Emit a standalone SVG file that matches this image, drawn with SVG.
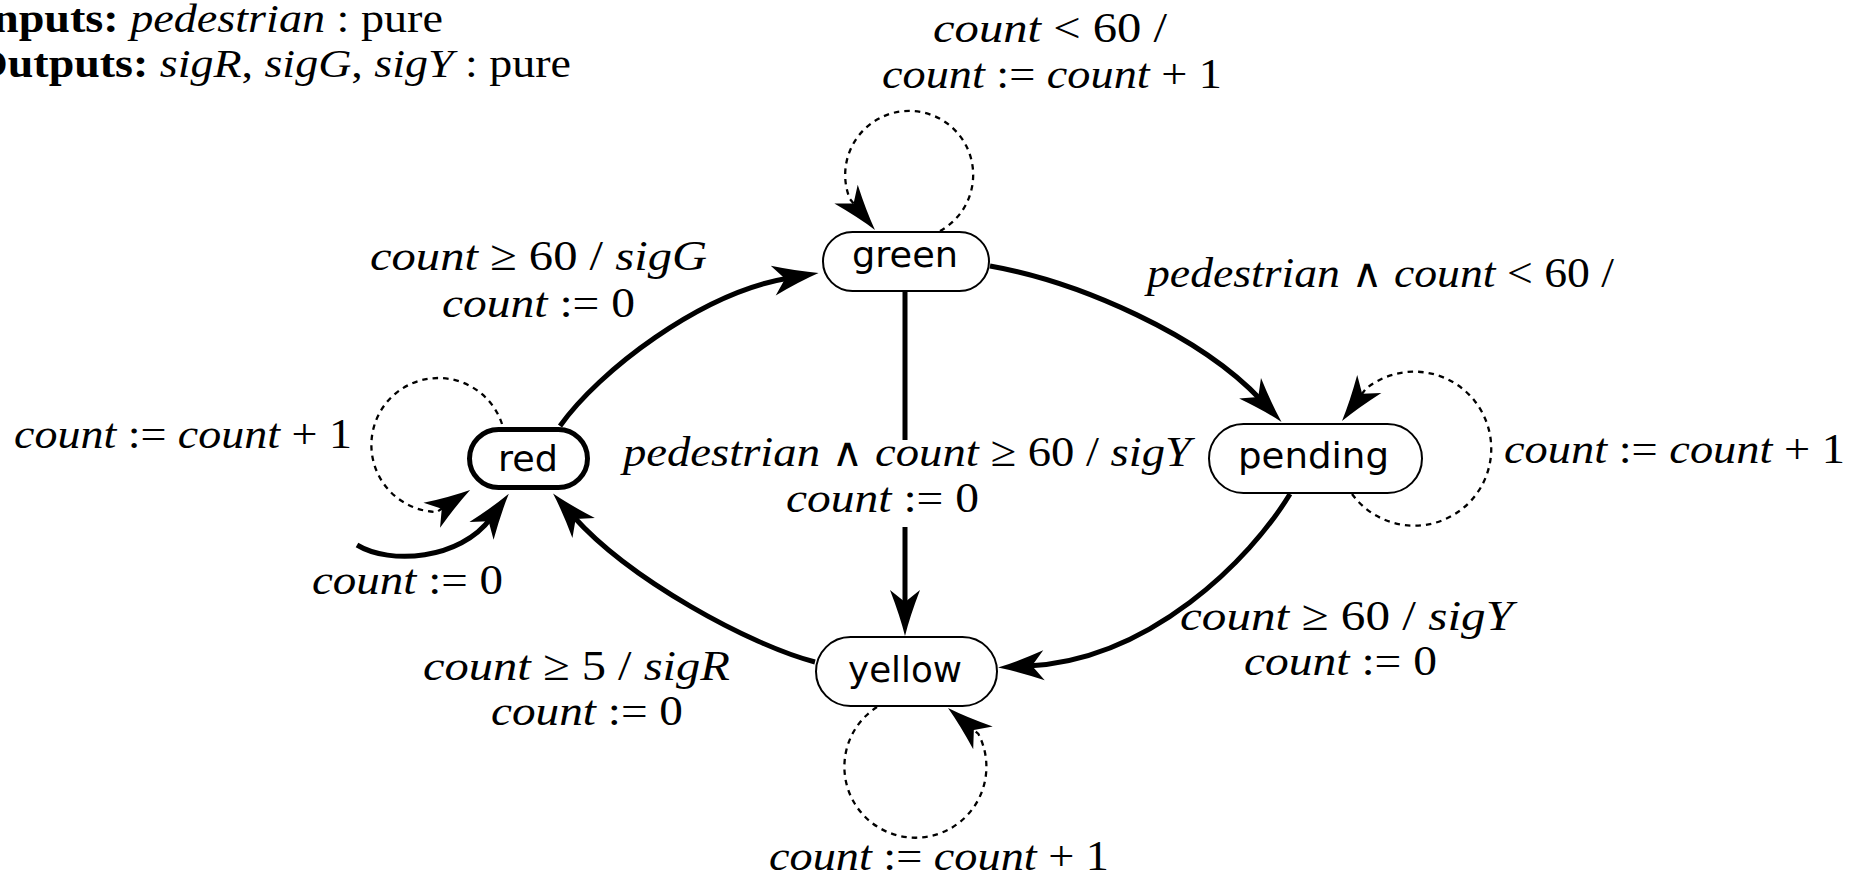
<svg xmlns="http://www.w3.org/2000/svg" width="1854" height="879" viewBox="0 0 1854 879">
  <style>
    .m { font-family: "Liberation Serif", "Times New Roman", serif; font-size: 43px; fill: #000; }
    .h { font-size: 41px; }
    .i { font-style: italic; }
    .b { font-weight: bold; }
    .w { font-family: "DejaVu Serif", "DejaVu Sans", serif; font-size: 40px; }
    .node rect { fill: #fff; stroke: #000; stroke-width: 2; }
    .node.initial rect { stroke-width: 5; }
    .node text { font-family: "DejaVu Sans", "Open Sans", sans-serif; font-size: 36px; fill: #000; }
    .edge { fill: none; stroke: #000; stroke-width: 5; marker-end: url(#arrow); }
    .loop { fill: none; stroke: #000; stroke-width: 2.3; stroke-dasharray: 5.5 5; marker-end: url(#arrow); }
  </style>
  <defs>
    <!-- swept arrowhead; the path end sits 30px behind the tip -->
    <marker id="arrow" markerUnits="userSpaceOnUse" viewBox="-50 -20 54 40" markerWidth="54" markerHeight="40" refX="-30" refY="0" orient="auto" overflow="visible">
      <path d="M0,0 Q-20,-5 -46,-15 L-34,0 L-46,15 Q-20,5 0,0 Z" fill="#000"/>
    </marker>
  </defs>
  <rect width="1854" height="879" fill="#fff"/>

  <!-- interface declaration -->
  <g id="declarations">
    <text class="m h" x="-25" y="32" textLength="468" lengthAdjust="spacingAndGlyphs"><tspan class="b">Inputs:</tspan> <tspan class="i">pedestrian</tspan> : pure</text>
    <text class="m h" x="-28" y="77" textLength="599" lengthAdjust="spacingAndGlyphs"><tspan class="b">Outputs:</tspan> <tspan class="i">sigR</tspan>, <tspan class="i">sigG</tspan>, <tspan class="i">sigY</tspan> : pure</text>
  </g>

  <!-- transitions -->
  <g id="connectors">
    <path id="e-red-green" class="edge" d="M560,426 C598,372 700,293 789,278"/>
    <path id="e-green-pending" class="edge" d="M990,266 C1080,282 1200,335 1261,400"/>
    <path id="e-green-yellow" class="edge" d="M905,292 V440 M905,527 V606"/>
    <path id="e-pending-yellow" class="edge" d="M1290,494 C1250,560 1150,660 1028,666"/>
    <path id="e-yellow-red" class="edge" d="M815,662 C750,645 630,580 573,516"/>
    <path id="e-init" class="edge" d="M357,545 C390,565 460,560 491,518"/>
    <path id="l-green" class="loop" d="M940,231 A64,64 0 1 0 849.8,198.8 L856.1,206.6"/>
    <path id="l-red" class="loop" d="M502,424 A67,67 0 1 0 436.8,512 L445.1,506.5"/>
    <path id="l-pending" class="loop" d="M1352,494 A77,77 0 1 0 1365.7,388.9 L1359.8,396.9"/>
    <path id="l-yellow" class="loop" d="M877,707 A71,71 0 1 0 978.4,734 L970.8,727.5"/>
  </g>

  <!-- guards and actions -->
  <g id="edge-labels">
    <text class="m" x="933" y="42" textLength="234" lengthAdjust="spacingAndGlyphs"><tspan class="i">count</tspan> &lt; 60 /</text>
    <text class="m" x="882" y="88" textLength="340" lengthAdjust="spacingAndGlyphs"><tspan class="i">count</tspan> := <tspan class="i">count</tspan> + 1</text>

    <text class="m" x="370" y="270" textLength="337" lengthAdjust="spacingAndGlyphs"><tspan class="i">count</tspan> ≥ 60 / <tspan class="i">sigG</tspan></text>
    <text class="m" x="442" y="317" textLength="193" lengthAdjust="spacingAndGlyphs"><tspan class="i">count</tspan> := 0</text>

    <text class="m" x="1147" y="287" textLength="467" lengthAdjust="spacingAndGlyphs"><tspan class="i">pedestrian</tspan> <tspan class="w">∧</tspan> <tspan class="i">count</tspan> &lt; 60 /</text>

    <text class="m" x="14" y="448" textLength="338" lengthAdjust="spacingAndGlyphs"><tspan class="i">count</tspan> := <tspan class="i">count</tspan> + 1</text>

    <text class="m" x="623" y="466" textLength="568" lengthAdjust="spacingAndGlyphs"><tspan class="i">pedestrian</tspan> <tspan class="w">∧</tspan> <tspan class="i">count</tspan> ≥ 60 / <tspan class="i">sigY</tspan></text>
    <text class="m" x="786" y="512" textLength="193" lengthAdjust="spacingAndGlyphs"><tspan class="i">count</tspan> := 0</text>

    <text class="m" x="1504" y="463" textLength="341" lengthAdjust="spacingAndGlyphs"><tspan class="i">count</tspan> := <tspan class="i">count</tspan> + 1</text>

    <text class="m" x="312" y="594" textLength="191" lengthAdjust="spacingAndGlyphs"><tspan class="i">count</tspan> := 0</text>

    <text class="m" x="1180" y="630" textLength="333" lengthAdjust="spacingAndGlyphs"><tspan class="i">count</tspan> ≥ 60 / <tspan class="i">sigY</tspan></text>
    <text class="m" x="1244" y="675" textLength="193" lengthAdjust="spacingAndGlyphs"><tspan class="i">count</tspan> := 0</text>

    <text class="m" x="423" y="680" textLength="307" lengthAdjust="spacingAndGlyphs"><tspan class="i">count</tspan> ≥ 5 / <tspan class="i">sigR</tspan></text>
    <text class="m" x="491" y="725" textLength="192" lengthAdjust="spacingAndGlyphs"><tspan class="i">count</tspan> := 0</text>

    <text class="m" x="769" y="870" textLength="340" lengthAdjust="spacingAndGlyphs"><tspan class="i">count</tspan> := <tspan class="i">count</tspan> + 1</text>
  </g>

  <!-- states -->
  <g id="green" class="node">
    <rect x="823" y="232" width="166" height="59" rx="29.5"/>
    <text x="852" y="267" textLength="106" lengthAdjust="spacingAndGlyphs">green</text>
  </g>
  <g id="red" class="node initial">
    <rect x="469.5" y="429.5" width="118" height="58" rx="29"/>
    <text x="498" y="471" textLength="60" lengthAdjust="spacingAndGlyphs">red</text>
  </g>
  <g id="pending" class="node">
    <rect x="1209" y="424" width="213" height="69" rx="34.5"/>
    <text x="1238" y="468" textLength="151" lengthAdjust="spacingAndGlyphs">pending</text>
  </g>
  <g id="yellow" class="node">
    <rect x="816" y="637" width="181" height="69" rx="34.5"/>
    <text x="848" y="682" textLength="114" lengthAdjust="spacingAndGlyphs">yellow</text>
  </g>
</svg>
